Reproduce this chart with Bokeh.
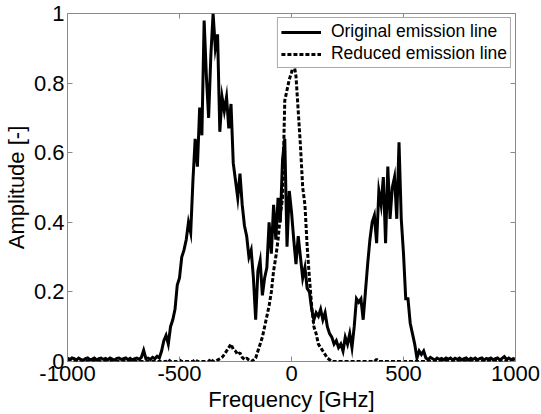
from bokeh.plotting import figure
from bokeh.models import (Range1d, LinearAxis, FixedTicker, CustomJSTickFormatter,
                          Legend, LegendItem, ColumnDataSource)
from bokeh.embed import file_html
from bokeh.resources import INLINE

# ---- data ----
freq = list(range(-1000, 1001, 10))

original = [
    0.010, 0.005, 0.010, 0.008, 0.004, 0.010, 0.006, 0.003, 0.008, 0.010,   # -1000..-910
    0.005, 0.007, 0.010, 0.004, 0.008, 0.010, 0.006, 0.009, 0.005, 0.010,   # -900..-810
    0.007, 0.004, 0.009, 0.010, 0.006, 0.008, 0.010, 0.005, 0.009, 0.004,   # -800..-710
    0.008, 0.010, 0.006, 0.012, 0.032, 0.008, 0.010, 0.006, 0.012, 0.008,   # -700..-610
    0.015, 0.010, 0.030, 0.060, 0.075, 0.050, 0.100, 0.120, 0.150, 0.220,   # -600..-510
    0.24, 0.30, 0.32, 0.35, 0.40, 0.37, 0.52, 0.64, 0.56, 0.73,             # -500..-410
    0.65, 0.98, 0.82, 0.70, 0.88, 1.00, 0.90, 0.94, 0.66, 0.76,             # -400..-310
    0.72, 0.76, 0.67, 0.74, 0.57, 0.52, 0.47, 0.54, 0.45, 0.39,             # -300..-210
    0.36, 0.30, 0.32, 0.24, 0.12, 0.26, 0.29, 0.19, 0.24, 0.27,             # -200..-110
    0.40, 0.31, 0.45, 0.35, 0.47, 0.40, 0.58, 0.64, 0.33, 0.49,             # -100..-10
    0.43, 0.35, 0.28, 0.36, 0.30, 0.24, 0.27, 0.21, 0.20, 0.15,             # 0..90
    0.12, 0.14, 0.13, 0.15, 0.12, 0.14, 0.10, 0.08, 0.07, 0.05,             # 100..190
    0.06, 0.04, 0.05, 0.03, 0.07, 0.05, 0.08, 0.04, 0.10, 0.18,             # 200..290
    0.17, 0.18, 0.12, 0.20, 0.28, 0.35, 0.40, 0.42, 0.34, 0.49,             # 300..390
    0.45, 0.53, 0.34, 0.56, 0.41, 0.50, 0.53, 0.41, 0.63, 0.41,             # 400..490
    0.31, 0.18, 0.18, 0.11, 0.08, 0.05, 0.01, 0.03, 0.02, 0.03,             # 500..590
    0.010, 0.005, 0.012, 0.008, 0.004, 0.010, 0.006, 0.009, 0.005, 0.010,   # 600..690
    0.007, 0.010, 0.004, 0.009, 0.006, 0.010, 0.005, 0.008, 0.010, 0.004,   # 700..790
    0.009, 0.006, 0.010, 0.005, 0.008, 0.010, 0.004, 0.009, 0.007, 0.010,   # 800..890
    0.005, 0.008, 0.010, 0.004, 0.009, 0.014, 0.006, 0.010, 0.005, 0.008,   # 900..990
    0.006,                                                                  # 1000
]

reduced = [
    0, 0, 0, 0, 0, 0, 0, 0, 0, 0,                                           # -1000..-910
    0, 0, 0, 0, 0, 0, 0, 0, 0, 0,                                           # -900..-810
    0, 0, 0, 0, 0, 0, 0, 0, 0, 0,                                           # -800..-710
    0, 0, 0, 0, 0, 0, 0, 0, 0, 0,                                           # -700..-610
    0, 0, 0, 0, 0, 0.006, 0, 0, 0, 0,                                       # -600..-510
    0.004, 0, 0, 0, 0, 0, 0, 0.006, 0, 0,                                   # -500..-410
    0, 0, 0, 0, 0.008, 0, 0, 0.004, 0.008, 0.012,                           # -400..-310
    0.020, 0.030, 0.040, 0.050, 0.035, 0.030, 0.020, 0.025, 0.012, 0.006,   # -300..-210
    0.010, 0.004, 0.0, 0.004, 0.010, 0.030, 0.050, 0.070, 0.100, 0.130,     # -200..-110
    0.16, 0.20, 0.26, 0.30, 0.35, 0.42, 0.47, 0.75, 0.78, 0.81,             # -100..-10
    0.83, 0.86, 0.82, 0.72, 0.62, 0.50, 0.45, 0.33, 0.24, 0.16,             # 0..90
    0.10, 0.08, 0.05, 0.04, 0.03, 0.02, 0.01, 0.005, 0, 0,                  # 100..190
    0, 0, 0, 0, 0, 0, 0, 0, 0, 0,                                           # 200..290
    0, 0, 0, 0, 0, 0, 0, 0, 0.006, 0,                                       # 300..390
    0, 0, 0, 0, 0, 0, 0, 0, 0, 0,                                           # 400..490
    0, 0, 0, 0, 0, 0, 0, 0, 0, 0,                                           # 500..590
    0, 0, 0, 0, 0, 0, 0, 0, 0, 0,                                           # 600..690
    0, 0, 0, 0, 0, 0, 0, 0, 0, 0,                                           # 700..790
    0, 0, 0, 0, 0, 0, 0, 0, 0, 0,                                           # 800..890
    0, 0, 0, 0, 0, 0.004, 0, 0, 0, 0,                                       # 900..990
    0,                                                                      # 1000
]

x_ticks = [-1000, -500, 0, 500, 1000]
x_tick_labels = ["-1000", "-500", "0", "500", "1000"]
y_ticks = [0, 0.2, 0.4, 0.6, 0.8, 1]
y_tick_labels = ["0", "0.2", "0.4", "0.6", "0.8", "1"]

series_names = ["Original emission line", "Reduced emission line"]
x_label = "Frequency [GHz]"
y_label = "Amplitude [-]"

FONT = "Liberation Sans"
FRAME = "#8a8a8a"

src = ColumnDataSource(dict(freq=freq, original=original, reduced=reduced))

p = figure(width=541, height=414, output_backend="svg", toolbar_location=None,
           x_range=Range1d(-1000, 1000), y_range=Range1d(0, 1),
           x_axis_location=None, y_axis_location=None,
           min_border_left=65, min_border_right=26, min_border_top=13, min_border_bottom=51,
           background_fill_color="white", border_fill_color="white")
p.grid.visible = False
p.outline_line_color = FRAME
p.outline_line_width = 1

lookup_code = """
let best = 0;
for (let i = 0; i < t.length; i++) {
  if (Math.abs(t[i] - tick) < Math.abs(t[best] - tick)) best = i;
}
return l[best];
"""


def style_axis(ax, show_labels):
    ax.axis_line_color = None
    ax.major_tick_in = 5
    ax.major_tick_out = 0
    ax.minor_tick_line_color = None
    ax.major_tick_line_color = FRAME
    ax.major_label_text_font = FONT
    ax.major_label_text_font_size = "22px"
    ax.major_label_text_color = "black"
    ax.axis_label_text_font = FONT
    ax.axis_label_text_font_size = "22px"
    ax.axis_label_text_font_style = "normal"
    ax.axis_label_text_color = "black"
    if not show_labels:
        ax.formatter = CustomJSTickFormatter(code="return '';")
        ax.major_label_text_color = None
        ax.major_label_standoff = 0


xb = LinearAxis(ticker=FixedTicker(ticks=x_ticks),
                formatter=CustomJSTickFormatter(args=dict(t=x_ticks, l=x_tick_labels), code=lookup_code),
                axis_label=x_label)
style_axis(xb, True)
xb.major_label_standoff = 4
xb.axis_label_standoff = 3
p.add_layout(xb, "below")

yl = LinearAxis(ticker=FixedTicker(ticks=y_ticks),
                formatter=CustomJSTickFormatter(args=dict(t=y_ticks, l=y_tick_labels), code=lookup_code),
                axis_label=y_label)
style_axis(yl, True)
yl.major_label_standoff = 3
yl.axis_label_standoff = 2
p.add_layout(yl, "left")

xt = LinearAxis(ticker=FixedTicker(ticks=x_ticks))
style_axis(xt, False)
p.add_layout(xt, "above")

yr = LinearAxis(ticker=FixedTicker(ticks=y_ticks))
style_axis(yr, False)
p.add_layout(yr, "right")

r_orig = p.line("freq", "original", source=src, line_color="black", line_width=3,
                line_join="miter")
r_red = p.line("freq", "reduced", source=src, line_color="black", line_width=3,
               line_dash="4 2")

legend = Legend(items=[LegendItem(label=series_names[0], renderers=[r_orig]),
                       LegendItem(label=series_names[1], renderers=[r_red])],
                location="top_right")
legend.margin = 4
legend.padding = 3
legend.spacing = 1
legend.glyph_width = 40
legend.glyph_height = 18
legend.label_height = 18
legend.label_standoff = 10
legend.label_text_font = FONT
legend.label_text_font_size = "17.5px"
legend.label_text_color = "black"
legend.border_line_color = "#555555"
legend.border_line_width = 1
legend.background_fill_color = "white"
legend.background_fill_alpha = 1
p.add_layout(legend, "center")

open("out.html", "w").write(file_html(p, INLINE))
